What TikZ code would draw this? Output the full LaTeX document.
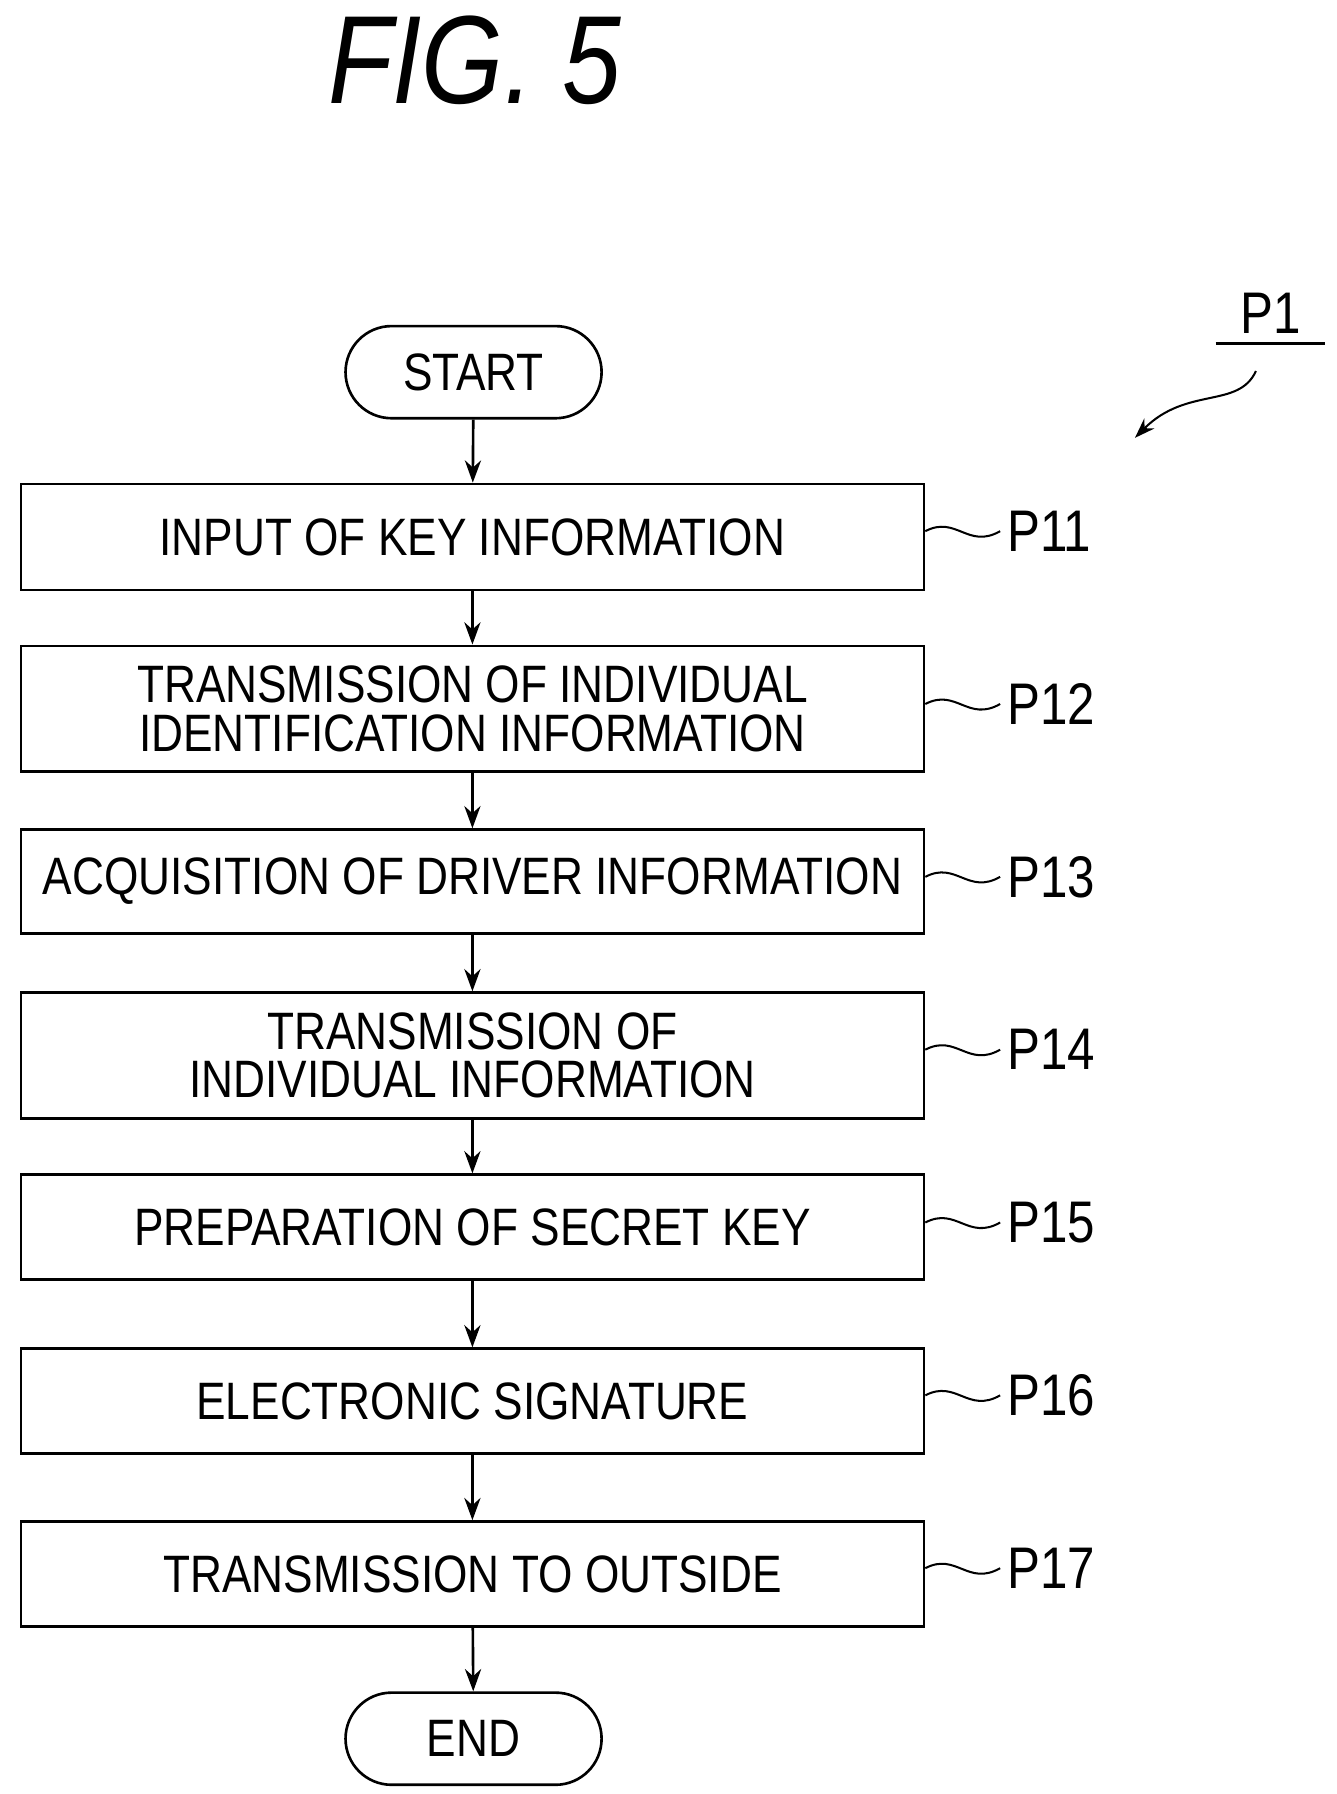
\documentclass[tikz,border=0pt]{standalone}
\usepackage{fontspec}
\setmainfont[FakeStretch=0.84]{Liberation Sans}
\usetikzlibrary{shapes.misc,arrows.meta}
\tikzset{
  stepbox/.style={draw,line width=1.3pt,minimum width=15.68cm,inner sep=0pt,align=center,font=\fontsize{26}{24}\selectfont},
  term/.style={draw,line width=1.3pt,rounded rectangle,minimum width=4.68cm,minimum height=1.6cm,font=\fontsize{26}{25}\selectfont},
  lbl/.style={anchor=west,font=\fontsize{29}{29}\selectfont},
  flow/.style={-{Stealth[length=11pt,width=8pt]},line width=1.3pt},
  tilde/.style={line width=1pt}
}
\begin{document}
\begin{tikzpicture}[x=0.02cm,y=-0.02cm]
\useasboundingbox (0,0) rectangle (1160,1557);
\node[font=\fontsize{62}{62}\selectfont\itshape] (fig) at (412,52) {FIG. 5};
\node[term] (start) at (411,323) {START};
\node[stepbox,minimum height=1.84cm] (p11) at (410,466) {INPUT OF KEY INFORMATION};
\node[stepbox,minimum height=2.18cm] (p12) at (410,615) {TRANSMISSION OF INDIVIDUAL\\IDENTIFICATION INFORMATION};
\node[stepbox,minimum height=1.8cm] (p13) at (410,765) {ACQUISITION OF DRIVER INFORMATION};
\node[stepbox,minimum height=2.18cm] (p14) at (410,916) {TRANSMISSION OF\\INDIVIDUAL INFORMATION};
\node[stepbox,minimum height=1.82cm] (p15) at (410,1065) {PREPARATION OF SECRET KEY};
\node[stepbox,minimum height=1.82cm] (p16) at (410,1216) {ELECTRONIC SIGNATURE};
\node[stepbox,minimum height=1.82cm] (p17) at (410,1366) {TRANSMISSION TO OUTSIDE};
\node[term] (end) at (411,1509) {END};
\draw[flow] (start) -- (p11);
\draw[flow] (p11) -- (p12);
\draw[flow] (p12) -- (p13);
\draw[flow] (p13) -- (p14);
\draw[flow] (p14) -- (p15);
\draw[flow] (p15) -- (p16);
\draw[flow] (p16) -- (p17);
\draw[flow] (p17) -- (end);
% reference labels
\foreach \s/\y in {11/463,12/613,13/763,14/913,15/1063,16/1213,17/1363}{
  \node[lbl] (l\s) at (868,\y-2) {P\s};
  \draw[tilde] (p\s.east |- l\s) .. controls (830,\y-16) and (840,\y+14) .. (l\s.west);
}
\node[font=\fontsize{29}{29}\selectfont] (p1) at (1103,272) {P1};
\coordinate (p1a) at (1055,298);
\coordinate (p1b) at (1150,298);
\draw[line width=1.3pt] (p1a) -- (p1b);
\coordinate (p1s) at (1090,322);
\coordinate (p1e) at (985,380);
\draw[tilde,-{Stealth[length=10pt,width=7pt]}] (p1s) .. controls (1075,355) and (1030,335) .. (p1e);
\end{tikzpicture}
\end{document}
